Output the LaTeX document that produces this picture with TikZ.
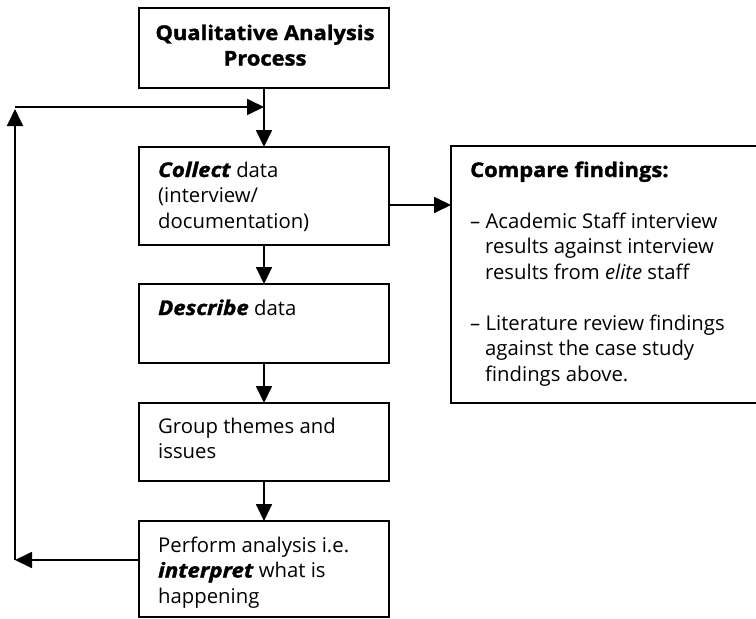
\documentclass[tikz,border=0pt]{standalone}
\usepackage{fontspec}
\setmainfont{Open Sans}[
  BoldFeatures={FakeBold=1.6, FakeStretch=1.08},
  BoldItalicFeatures={FakeBold=1.6, FakeStretch=1.1}]
\usetikzlibrary{arrows.meta}

\begin{document}
\begin{tikzpicture}[x=1pt, y=-1pt,
  every node/.style={font=\fontsize{20.3}{25.5}\selectfont},
  box/.style={draw, line width=1.8pt, anchor=north west, inner sep=0pt, outer sep=0pt},
  txt/.style={anchor=base west, inner sep=0pt},
  arr/.style={line width=1.8pt, -{Triangle[length=17pt,width=16pt]}}]
  \useasboundingbox (0,0) rectangle (756,619);

  % process boxes
  \node[box, minimum width=250pt, minimum height=80pt] (title) at (139,8) {};
  \node[box, minimum width=250pt, minimum height=98pt] (collect) at (139,147) {};
  \node[box, minimum width=250pt, minimum height=79pt] (describe) at (139,284) {};
  \node[box, minimum width=250pt, minimum height=78pt] (group) at (139,403) {};
  \node[box, minimum width=250pt, minimum height=96pt] (perform) at (139,521) {};
  \node[box, minimum width=320pt, minimum height=257pt] (compare) at (451,146) {};

  % box texts
  \node[anchor=base, inner sep=0pt] (title-t) at (265,40)
    {\parbox[t]{245pt}{\centering\bfseries Qualitative Analysis\\Process}};
  \node[txt] (collect-t) at (158,177)
    {\parbox[t]{228pt}{\raggedright\textbf{\textit{Collect}} data\\(interview/\\documentation)}};
  \node[txt] (describe-t) at (158,315)
    {\parbox[t]{228pt}{\raggedright\textbf{\textit{Describe}} data}};
  \node[txt] (group-t) at (158,433)
    {\parbox[t]{228pt}{\raggedright Group themes and\\issues}};
  \node[txt] (perform-t) at (158,552)
    {\parbox[t]{228pt}{\raggedright Perform analysis i.e.\\\textbf{\textit{interpret}} what is\\happening}};
  \node[txt] (compare-t) at (470,177)
    {\parbox[t]{284pt}{\raggedright
      \textbf{Compare findings:}\par\vspace{25.5pt}
      \hangindent=15pt\hangafter=1
      – Academic Staff interview\newline results against interview\newline results from \textit{elite} staff\par
      \vspace{25.5pt}
      \hangindent=15pt\hangafter=1
      – Literature review findings\newline against the case study\newline findings above.\par}};

  % feedback loop corners
  \coordinate (loopL) at (15,560);
  \coordinate (loopT) at (15,107);

  % connectors
  \draw[arr] (title.south) -- (collect.north);
  \draw[arr] (collect.south) -- (describe.north);
  \draw[arr] (describe.south) -- (group.north);
  \draw[arr] (group.south) -- (perform.north);
  \draw[arr] ([yshift=-9pt]collect.east) -- ([yshift=-9pt]collect.east -| compare.west);
  \draw[arr] ([yshift=9pt]perform.west) -- (loopL);
  \draw[arr] (loopL) -- ([yshift=-2pt]loopT);
  \draw[arr] (loopT) -- (loopT -| title.south);
\end{tikzpicture}
\end{document}
